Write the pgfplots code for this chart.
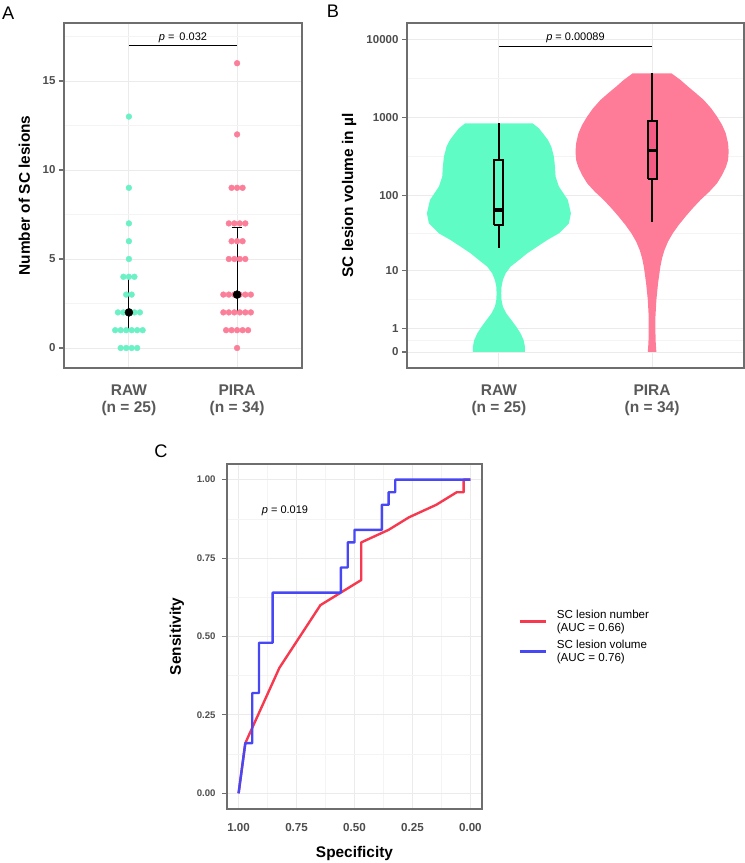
\documentclass[border=0pt]{standalone}
\usepackage{pgfplots}
\pgfplotsset{compat=1.18}
\usepackage{fontspec}
\setmainfont{Liberation Sans}
\definecolor{rawg}{HTML}{5FFCC6}
\definecolor{rawpt}{HTML}{6CF0C6}
\definecolor{piral}{HTML}{FF7C98}
\definecolor{pirapt}{HTML}{FB7F98}
\definecolor{pirabox}{HTML}{F25C84}
\definecolor{rocred}{HTML}{F6394F}
\definecolor{rocblue}{HTML}{4747F5}
\definecolor{gridmaj}{HTML}{EBEBEB}
\definecolor{gridmin}{HTML}{F4F4F4}
\definecolor{bordercol}{HTML}{6E6E6E}
\definecolor{ticktext}{HTML}{4D4D4D}
\definecolor{cattext}{HTML}{595959}
\newcommand{\tickfont}{\fontsize{11.5}{13}\selectfont\bfseries}
\newcommand{\ctickyfont}{\fontsize{9.6}{11}\selectfont\bfseries}
\newcommand{\ctickxfont}{\fontsize{11.6}{13}\selectfont\bfseries}
\newcommand{\catfont}{\fontsize{15.5}{17.5}\selectfont\bfseries}
\newcommand{\labfont}{\fontsize{15.4}{18}\selectfont\bfseries}
\newcommand{\pfont}{\fontsize{11}{13}\selectfont}
\newcommand{\legfont}{\fontsize{11.6}{12.5}\selectfont}
\newcommand{\panelfont}{\fontsize{18.2}{20}\selectfont}
\pgfplotsset{
 basestyle/.style={
  scale only axis, anchor=south west, clip=false,
  axis line style={bordercol, line width=1.2pt},
  grid=both,
  major grid style={gridmaj, line width=0.9pt},
  minor grid style={gridmin, line width=0.6pt},
  tick align=outside, major tick length=5pt, minor tick length=0pt,
  ytick style={bordercol, line width=1.1pt},
  xtick style={draw=none},
  xtick pos=bottom, ytick pos=left,
  yticklabel style={font=\tickfont, text=ticktext},
  ylabel style={font=\labfont},
  xlabel style={font=\labfont},
 }
}
\begin{document}
\begin{tikzpicture}
\path[use as bounding box] (0,0) rectangle (745pt,863pt);
\node[font=\panelfont] at (8.3pt,849.7pt) {A};
\node[font=\panelfont] at (333pt,852.2pt) {B};
\node[font=\panelfont] at (161pt,411.3pt) {C};

% ---------------- Panel A ----------------
\begin{axis}[basestyle, at={(64pt,495pt)}, width=238pt, height=345pt,
 xmin=0.4, xmax=2.6, ymin=-1.124, ymax=18.26,
 xtick={1,2}, xticklabels={{RAW\\(n = 25)},{PIRA\\(n = 34)}},
 xticklabel style={align=center, font=\catfont, text=cattext, yshift=-8pt},
 ytick={0,5,10,15}, yticklabels={0,5,10,15},
 minor ytick={2.5,7.5,12.5,17.5},
 ylabel={Number of SC lesions},
 ylabel style={at={(axis description cs:-0.166,0.5)}, anchor=center},
]
\addplot[only marks, mark=*, mark size=2.9pt, color=rawpt] coordinates {
 (0.9746,0) (1.0254,0) (0.9238,0) (1.0762,0)
 (0.9746,1) (1.0254,1) (0.9238,1) (1.0762,1) (0.873,1) (1.127,1)
 (1,2) (0.9492,2) (1.0508,2) (0.8984,2) (1.1016,2)
 (0.9746,3) (1.0254,3)
 (1,4) (0.9492,4) (1.0508,4)
 (1,5) (1,6) (1,7) (1,9) (1,13)
};
\addplot[only marks, mark=*, mark size=2.9pt, color=pirapt] coordinates {
 (2,0)
 (2,1) (1.9492,1) (2.0508,1) (1.8984,1) (2.1016,1)
 (1.9746,2) (2.0254,2) (1.9238,2) (2.0762,2) (1.873,2) (2.127,2)
 (1.9746,3) (2.0254,3) (1.9238,3) (2.0762,3) (1.873,3) (2.127,3)
 (1.9746,5) (2.0254,5) (1.9238,5) (2.0762,5)
 (2,6) (1.9492,6) (2.0508,6)
 (1.9746,7) (2.0254,7) (1.9238,7) (2.0762,7)
 (2,9) (1.9492,9) (2.0508,9)
 (2,12) (2,16)
};
\addplot[only marks, mark=*, mark size=4pt, black,
 error bars/.cd, y dir=both, y explicit,
 error bar style={line width=0.9pt, black},
 error mark options={rotate=90, mark size=5.3pt, line width=0.9pt, black}]
 coordinates {(1,2) += (0,2) -= (0,1) (2,3) += (0,3.75) -= (0,1)};
\addplot[black, line width=0.6pt] coordinates {(1,17) (2,17)};
\node[font=\pfont] at (axis cs:1.5,17.45) {\textit{p} = \,0.032};
\end{axis}

% ---------------- Panel B ----------------
\begin{axis}[basestyle, at={(407pt,495pt)}, width=337pt, height=345pt,
 xmin=0.4, xmax=2.6, ymin=-0.205, ymax=4.207,
 xtick={1,2}, xticklabels={{RAW\\(n = 25)},{PIRA\\(n = 34)}},
 xticklabel style={align=center, font=\catfont, text=cattext, yshift=-8pt},
 ytick={0,0.30103,1.04139,2.00432,3.00043,4.00004},
 yticklabels={0,1,10,100,1000,10000},
 minor ytick={0.1505,0.6712,1.5229,2.5024,3.5002},
 ylabel={SC lesion volume in µl},
 ylabel style={at={(axis description cs:-0.172,0.5)}, anchor=center},
]
\addplot[fill=rawg, draw=none] coordinates {
(0.830,0) (0.830,0.068) (0.839,0.153) (0.859,0.239) (0.887,0.324) (0.919,0.409) (0.952,0.494) (0.974,0.580) (0.983,0.665) (0.985,0.750) (0.983,0.835) (0.974,0.921) (0.956,1.006) (0.924,1.091) (0.869,1.176) (0.815,1.262) (0.750,1.347) (0.684,1.432) (0.608,1.517) (0.543,1.645) (0.530,1.773) (0.550,1.944) (0.608,2.114) (0.630,2.242) (0.634,2.370) (0.641,2.498) (0.658,2.626) (0.680,2.711) (0.713,2.796) (0.739,2.860) (0.780,2.924)
(1.220,2.924) (1.261,2.860) (1.287,2.796) (1.320,2.711) (1.342,2.626) (1.359,2.498) (1.366,2.370) (1.370,2.242) (1.392,2.114) (1.450,1.944) (1.470,1.773) (1.457,1.645) (1.392,1.517) (1.316,1.432) (1.250,1.347) (1.185,1.262) (1.131,1.176) (1.076,1.091) (1.044,1.006) (1.026,0.921) (1.017,0.835) (1.015,0.750) (1.017,0.665) (1.026,0.580) (1.048,0.494) (1.081,0.409) (1.113,0.324) (1.141,0.239) (1.161,0.153) (1.170,0.068) (1.170,0)
};
\addplot[fill=piral, draw=none] coordinates {
(1.972,0) (1.976,0.111) (1.978,0.239) (1.978,0.452) (1.972,0.665) (1.961,0.878) (1.946,1.091) (1.935,1.198) (1.919,1.304) (1.896,1.411) (1.865,1.517) (1.826,1.624) (1.782,1.731) (1.735,1.837) (1.684,1.944) (1.626,2.050) (1.576,2.157) (1.543,2.263) (1.517,2.370) (1.504,2.455) (1.500,2.562) (1.504,2.668) (1.519,2.796) (1.543,2.903) (1.576,3.010) (1.615,3.117) (1.663,3.223) (1.713,3.308) (1.765,3.393) (1.815,3.479) (1.874,3.564)
(2.126,3.564) (2.185,3.479) (2.235,3.393) (2.287,3.308) (2.337,3.223) (2.385,3.117) (2.424,3.010) (2.457,2.903) (2.481,2.796) (2.496,2.668) (2.500,2.562) (2.496,2.455) (2.483,2.370) (2.457,2.263) (2.424,2.157) (2.374,2.050) (2.316,1.944) (2.265,1.837) (2.218,1.731) (2.174,1.624) (2.135,1.517) (2.104,1.411) (2.081,1.304) (2.065,1.198) (2.054,1.091) (2.039,0.878) (2.028,0.665) (2.022,0.452) (2.022,0.239) (2.024,0.111) (2.028,0)
};
% whiskers
\addplot[black, line width=1.7pt] coordinates {(1,1.334) (1,2.924)};
\addplot[black, line width=1.7pt] coordinates {(2,1.666) (2,3.564)};
% boxes
\addplot[fill=rawg, draw=black, line width=2pt, line join=miter] coordinates {(0.971,1.624) (1.029,1.624) (1.029,2.455) (0.971,2.455) (0.971,1.624)};
\addplot[fill=pirabox, draw=black, line width=2pt, line join=miter] coordinates {(1.971,2.208) (2.029,2.208) (2.029,2.958) (1.971,2.958) (1.971,2.208)};
% medians
\addplot[black, line width=3.3pt] coordinates {(0.971,1.816) (1.029,1.816)};
\addplot[black, line width=3.3pt] coordinates {(1.971,2.574) (2.029,2.574)};
\addplot[black, line width=0.6pt] coordinates {(1,3.904) (2,3.904)};
\node[font=\pfont] at (axis cs:1.5,4.024) {\textit{p} = 0.00089};
\end{axis}

% ---------------- Panel C ----------------
\begin{axis}[basestyle, at={(227pt,54pt)}, width=255pt, height=345pt,
 x dir=reverse, xmin=-0.05, xmax=1.05, ymin=-0.05, ymax=1.05,
 xtick={0,0.25,0.5,0.75,1}, xticklabels={0.00,0.25,0.50,0.75,1.00},
 ytick={0,0.25,0.5,0.75,1}, yticklabels={0.00,0.25,0.50,0.75,1.00},
 minor xtick={0.125,0.375,0.625,0.875}, minor ytick={0.125,0.375,0.625,0.875},
 xticklabel style={font=\ctickxfont, text=ticktext, yshift=-6pt},
 yticklabel style={font=\ctickyfont, text=ticktext, xshift=-3pt},
 xlabel={Specificity}, ylabel={Sensitivity},
 xlabel style={at={(axis description cs:0.5,-0.130)}, anchor=center},
 ylabel style={at={(axis description cs:-0.196,0.5)}, anchor=center},
 legend style={at={(axis description cs:1.13,0.5)}, anchor=west, draw=none, fill=none,
   font=\legfont, cells={anchor=west, align=left}, row sep=4pt, column sep=8pt},
 legend cell align=left,
 legend image code/.code={\draw[#1, line width=2.5pt] (0pt,0pt) -- (26pt,0pt);},
]
\addplot[rocred, line width=2.4pt, line join=round] coordinates {
 (1,0) (0.971,0.16) (0.824,0.40) (0.647,0.60) (0.471,0.68) (0.471,0.80)
 (0.353,0.84) (0.265,0.88) (0.147,0.92) (0.059,0.96) (0.029,0.96) (0.029,1.0) (0,1.0)
};
\addlegendentry{{SC lesion number\\(AUC = 0.66)}}
\addplot[rocblue, line width=2.4pt, line join=round] coordinates {
 (1,0) (0.971,0.16) (0.941,0.16) (0.941,0.32) (0.912,0.32) (0.912,0.48)
 (0.853,0.48) (0.853,0.64) (0.559,0.64) (0.559,0.72) (0.529,0.72) (0.529,0.80)
 (0.5,0.80) (0.5,0.84) (0.382,0.84) (0.382,0.92) (0.353,0.92) (0.353,0.96)
 (0.324,0.96) (0.324,1.0) (0,1.0)
};
\addlegendentry{{SC lesion volume\\(AUC = 0.76)}}
\node[font=\pfont] at (axis cs:0.8,0.9) {\textit{p} = 0.019};
\end{axis}
\end{tikzpicture}
\end{document}
